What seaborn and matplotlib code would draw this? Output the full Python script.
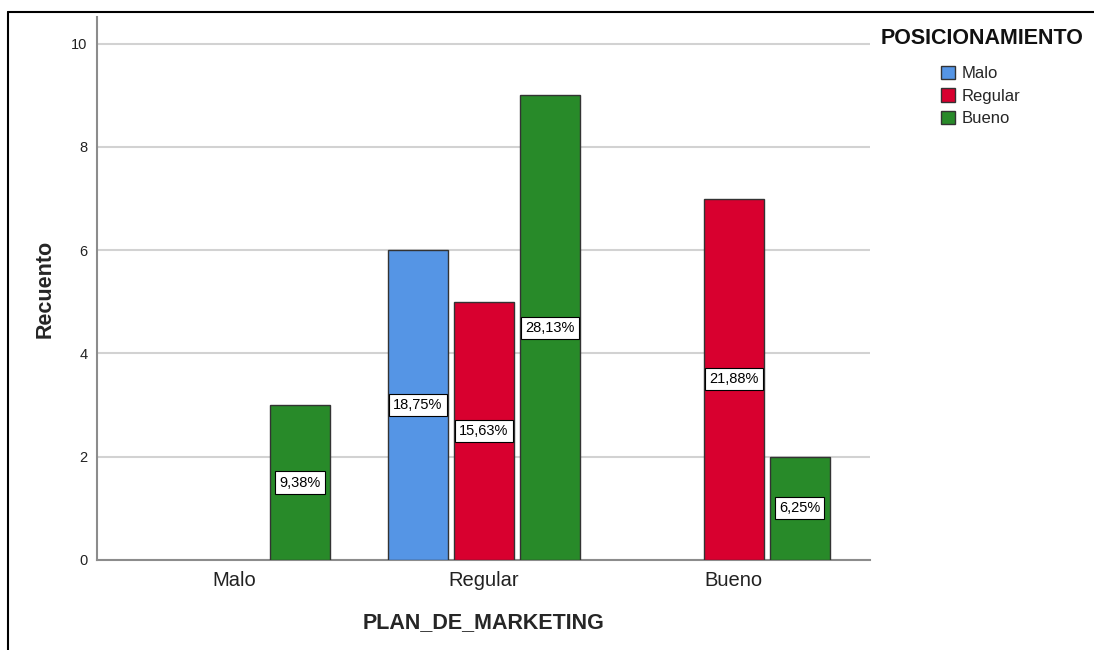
from decimal import Decimal, ROUND_HALF_UP

import matplotlib.pyplot as plt
import pandas as pd
import seaborn as sns
from matplotlib.lines import Line2D

# data (zero counts left out)
plan = ["Malo", "Regular", "Regular", "Regular", "Bueno", "Bueno"]
posicion = ["Bueno", "Malo", "Regular", "Bueno", "Regular", "Bueno"]
recuento = [3, 6, 5, 9, 7, 2]

categorias = ["Malo", "Regular", "Bueno"]
niveles = ["Malo", "Regular", "Bueno"]
colores = ["#5595E5", "#D8002F", "#288A29"]

total = sum(recuento)
df = pd.DataFrame({"PLAN_DE_MARKETING": plan, "POSICIONAMIENTO": posicion,
                   "Recuento": recuento})


def pct(v):
    p = Decimal(str(v / total * 100)).quantize(Decimal("0.01"), ROUND_HALF_UP)
    return f"{p}%".replace(".", ",")


sns.set_theme(style="white")
plt.rcParams["font.family"] = ["Liberation Sans", "DejaVu Sans"]

fig = plt.figure(figsize=(10.94, 6.5), dpi=100)
ax = fig.add_axes([0.0887, 0.1385, 0.7063, 0.8355])

sns.barplot(data=df, x="PLAN_DE_MARKETING", y="Recuento", hue="POSICIONAMIENTO",
            order=categorias, hue_order=niveles, palette=colores, saturation=1,
            width=0.792, gap=0.09, errorbar=None, edgecolor="#333333",
            linewidth=1.0, ax=ax, zorder=3)

for cont in ax.containers:
    ax.bar_label(cont, labels=[pct(v) for v in cont.datavalues], label_type="center",
                 fontsize=10.5, color="black", zorder=5,
                 bbox=dict(boxstyle="square,pad=0.28", fc="white", ec="black", lw=0.8))

ax.set_xlim(-0.548, 2.544)
ax.set_ylim(0, 10.52)
ax.set_yticks([0, 2, 4, 6, 8, 10])
ax.yaxis.grid(True, color="#d2d2d2", linewidth=1.5, zorder=0)
ax.set_axisbelow(True)

for side in ["top", "right"]:
    ax.spines[side].set_visible(False)
for side in ["left", "bottom"]:
    ax.spines[side].set_color("#8c8c8c")
    ax.spines[side].set_linewidth(1.5)

ax.tick_params(axis="y", length=0, pad=7, labelsize=10.5, colors="#222222")
ax.tick_params(axis="x", length=0, pad=8, labelsize=14.5, colors="#222222")
ax.set_xlabel("PLAN_DE_MARKETING", fontsize=15.5, fontweight="bold", labelpad=16)
ax.set_ylabel("Recuento", fontsize=15.5, fontweight="bold", labelpad=11)

# legend: title as separate text, entries below it
handles, labels = ax.get_legend_handles_labels()
ax.get_legend().remove()
fig.text(982 / 1094, 1 - 38 / 650, "POSICIONAMIENTO", ha="center", va="center",
         fontsize=15.5, fontweight="bold", color="#111111")
leg = fig.legend(handles, labels, loc="upper left",
                 bbox_to_anchor=(941 / 1094, 1 - 66 / 650), frameon=False,
                 fontsize=12, handlelength=0.85, handleheight=0.85, handletextpad=0.4,
                 labelspacing=0.42, borderpad=0, borderaxespad=0)
for h in leg.legend_handles:
    h.set_edgecolor("#333333")
    h.set_linewidth(1.0)

# outer frame lines (left and top)
fig.add_artist(Line2D([8 / 1094, 8 / 1094], [0, 1 - 12 / 650], color="black", lw=1.5))
fig.add_artist(Line2D([8 / 1094, 1], [1 - 12 / 650, 1 - 12 / 650], color="black", lw=1.5))

fig.savefig("out.png", dpi=100)
